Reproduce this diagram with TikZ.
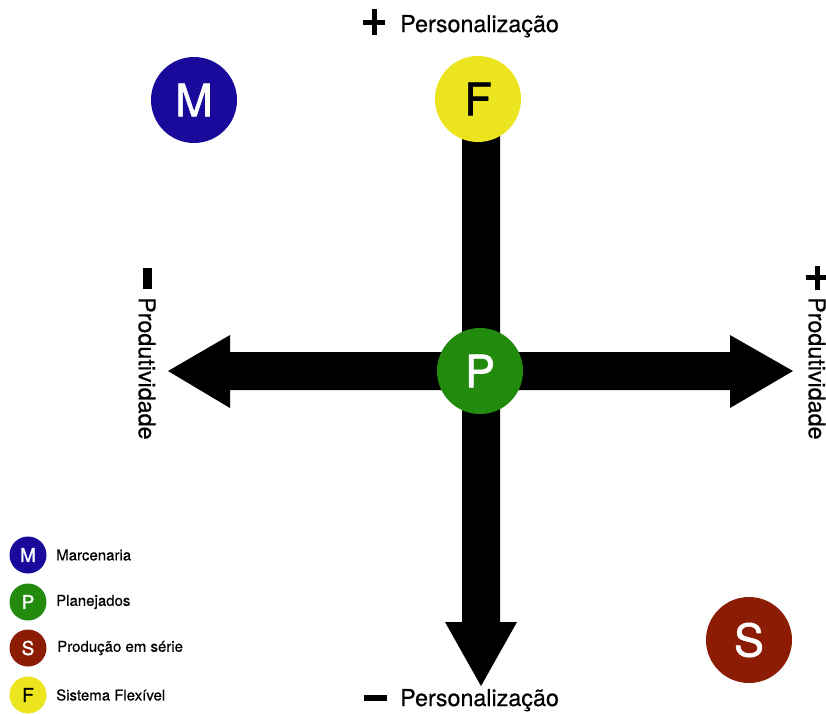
\documentclass[tikz,border=0pt]{standalone}
\usepackage{fontspec}
\setmainfont{TeX Gyre Heros}[FakeBold=0.5]
\newfontfamily\heavyfont{TeX Gyre Heros}[FakeBold=1.3]
\definecolor{mblue}{HTML}{1A0A9C}
\definecolor{pgreen}{HTML}{228B0E}
\definecolor{sred}{HTML}{8C1C04}
\definecolor{fyellow}{HTML}{ECE41E}
\tikzset{
  bigdot/.style={circle, inner sep=0pt, minimum size=86pt, font=\heavyfont\fontsize{45}{45}\selectfont},
  smalldot/.style={circle, inner sep=0pt, minimum size=37pt, font=\heavyfont\fontsize{19}{19}\selectfont},
  axislabel/.style={font=\fontsize{23.3}{23.3}\selectfont, inner sep=0pt},
  legendtext/.style={font=\fontsize{15}{15}\selectfont, anchor=west, inner sep=0pt},
}
\begin{document}
\begin{tikzpicture}[x=1pt,y=-1pt]
\useasboundingbox (0,0) rectangle (826,713);
% axes
\fill (462,110) -- (500,110) -- (500,622) -- (517,622) -- (481,686) -- (445,622) -- (462,622) -- cycle;
\fill (230,352) -- (730,352) -- (730,335) -- (793,371) -- (730,408) -- (730,390) -- (230,390) -- (230,408) -- (168,371) -- (230,335) -- cycle;
% big circles
\node[bigdot, fill=mblue, text=white] (M) at (194,100) {M};
\node[bigdot, fill=fyellow, text=black] (F) at (478,99) {F};
\node[bigdot, fill=pgreen, text=white] (P) at (480,371) {P};
\node[bigdot, fill=sred, text=white] (S) at (749,640) {S};
% axis labels
\fill (363,20) rectangle (385,25);
\fill (371.5,9) rectangle (376.5,35);
\node[axislabel, anchor=base west] (top) at (400,32) {Personalização};
\fill (364,695) rectangle (387,701);
\node[axislabel, anchor=base west] (bot) at (400,706) {Personalização};
\fill (143,268) rectangle (152,289);
\node[axislabel, rotate=-90, anchor=west] (left) at (147,297) {Produtividade};
\fill (806,275) rectangle (828,280);
\fill (814.5,266) rectangle (819.5,290);
\node[axislabel, rotate=-90, anchor=west] (right) at (817,297) {Produtividade};
% legend
\node[smalldot, fill=mblue, text=white] (lM) at (28,555) {M};
\node[legendtext] (tM) at (56,555) {Marcenaria};
\node[smalldot, fill=pgreen, text=white] (lP) at (28,602) {P};
\node[legendtext] (tP) at (56,602) {Planejados};
\node[smalldot, fill=sred, text=white] (lS) at (28,648) {S};
\node[legendtext] (tS) at (57,648) {Produção em série};
\node[smalldot, fill=fyellow, text=black] (lF) at (28,695) {F};
\node[legendtext] (tF) at (56,695) {Sistema Flexível};
\end{tikzpicture}
\end{document}
